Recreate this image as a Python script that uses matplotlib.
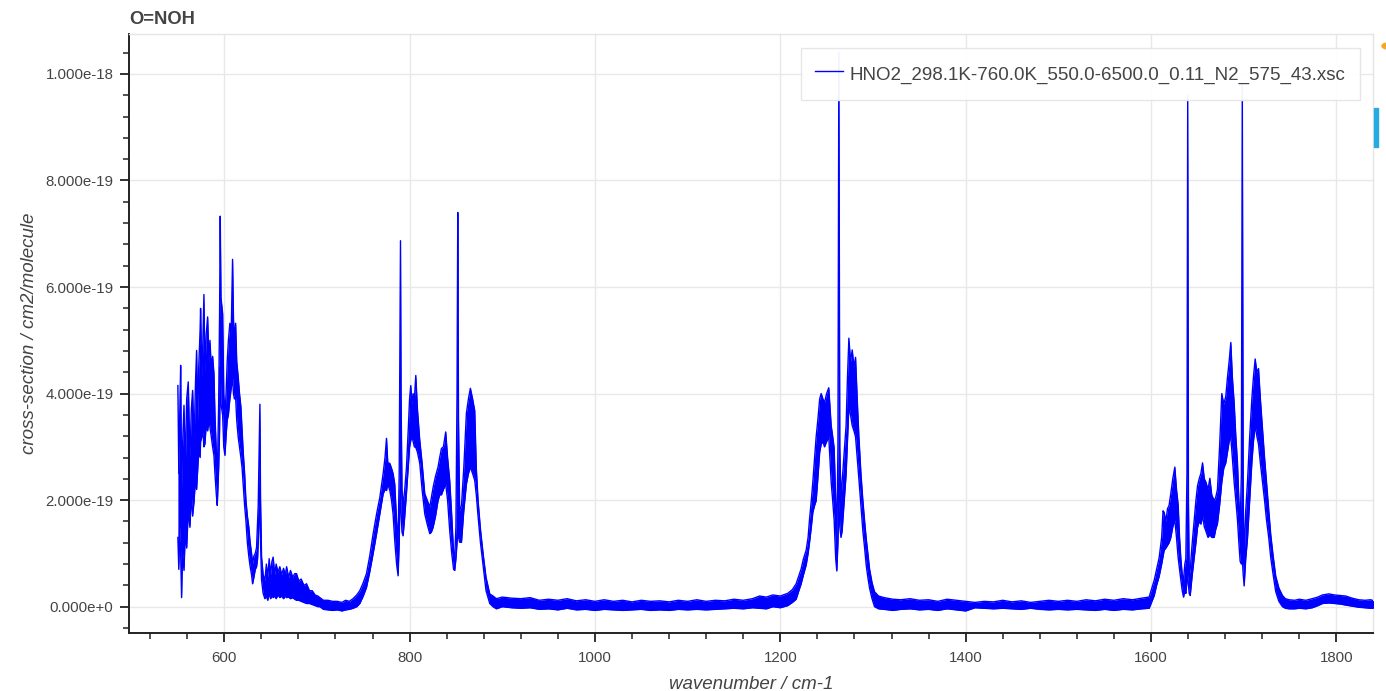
import numpy as np
import matplotlib.pyplot as plt
from matplotlib.ticker import MultipleLocator, FuncFormatter
from matplotlib.patches import Rectangle, Circle

plt.rcParams['font.family'] = ['Liberation Sans', 'DejaVu Sans']

# =========================
# spectrum (upper / lower edge of the noisy trace, units of 1e-19 cm2/molecule)
# =========================
title = "O=NOH"
file_label = "HNO2_298.1K-760.0K_550.0-6500.0_0.11_N2_575_43.xsc"

wavenumber = [
    550.0, 551.0, 552.0, 553.0, 554.0, 555.0, 556.6, 558.0, 559.5, 561.2,
    563.0, 564.5, 565.9, 567.5, 569.0, 570.2, 571.5, 572.5, 574.0, 574.5,
    576.0, 577.0, 578.1, 579.2, 580.5, 582.1, 583.5, 584.6, 586.0, 587.5,
    588.9, 590.0, 591.5, 592.5, 594.0, 595.0, 595.7, 596.5, 598.3, 599.5,
    600.8, 602.0, 603.2, 604.5, 606.1, 607.5, 609.0, 610.0, 611.0, 612.3,
    613.5, 615.1, 616.5, 618.0, 619.3, 620.5, 622.0, 623.4, 625.0, 626.5,
    628.0, 629.5, 630.6, 632.0, 633.5, 634.9, 636.0, 636.7, 637.8, 638.5,
    639.2, 640.3, 642.0, 643.9, 645.5, 647.0, 648.5, 650.0, 651.5, 652.8,
    654.5, 656.0, 658.0, 660.0, 662.0, 664.0, 666.0, 667.3, 669.5, 671.5,
    674.0, 676.0, 678.0, 680.5, 683.0, 686.0, 688.8, 692.0, 695.0, 698.0,
    701.0, 703.2, 707.0, 712.0, 717.0, 722.0, 727.0, 731.0, 735.0, 739.0,
    743.0, 746.3, 750.0, 753.5, 757.0, 760.7, 764.5, 767.9, 771.5, 773.5,
    775.1, 776.5, 778.7, 780.5, 782.2, 784.0, 786.0, 787.6, 788.8, 789.6,
    790.2, 790.8, 791.8, 793.0, 794.8, 796.6, 798.5, 800.0, 801.3, 802.5,
    803.8, 805.2, 806.7, 808.5, 811.0, 813.5, 816.4, 819.0, 821.8, 823.5,
    825.4, 828.0, 830.7, 832.5, 834.4, 836.5, 839.0, 841.0, 843.3, 845.5,
    847.5, 848.7, 850.0, 851.2, 852.0, 852.8, 854.0, 856.0, 858.5, 861.3,
    863.5, 865.6, 868.0, 870.3, 872.0, 873.9, 876.5, 879.3, 882.5, 886.5,
    890.0, 893.7, 900.0, 910.0, 920.0, 930.0, 940.0, 950.0, 960.0, 970.0,
    980.0, 990.0, 1000.0, 1010.0, 1020.0, 1030.0, 1040.0, 1050.0, 1060.0, 1070.0,
    1080.0, 1090.0, 1100.0, 1110.0, 1120.0, 1130.0, 1140.0, 1150.0, 1160.0, 1170.0,
    1177.6, 1185.0, 1192.0, 1200.0, 1208.0, 1213.0, 1217.1, 1220.0, 1222.5, 1225.0,
    1227.9, 1230.0, 1231.5, 1233.5, 1235.1, 1237.0, 1238.7, 1240.5, 1242.5, 1244.1,
    1246.0, 1247.7, 1250.0, 1252.3, 1254.9, 1256.5, 1258.1, 1259.8, 1261.0, 1262.2,
    1263.2, 1264.2, 1265.5, 1266.7, 1269.0, 1271.0, 1272.5, 1274.0, 1275.8, 1277.6,
    1279.5, 1281.2, 1283.0, 1284.8, 1287.0, 1289.1, 1291.0, 1292.7, 1294.5, 1296.3,
    1299.0, 1301.7, 1306.0, 1312.0, 1321.4, 1330.0, 1340.0, 1350.0, 1360.0, 1370.0,
    1380.0, 1390.0, 1400.0, 1410.0, 1420.0, 1430.0, 1440.0, 1450.0, 1460.0, 1470.0,
    1480.0, 1490.0, 1500.0, 1510.0, 1520.0, 1530.0, 1540.0, 1550.0, 1560.0, 1570.0,
    1580.0, 1590.0, 1598.0, 1603.5, 1606.0, 1608.8, 1611.5, 1613.0, 1614.2, 1616.0,
    1617.8, 1619.5, 1621.4, 1623.5, 1625.7, 1627.5, 1629.3, 1630.8, 1632.2, 1633.7,
    1635.1, 1636.5, 1637.6, 1638.8, 1639.6, 1640.4, 1641.2, 1642.3, 1644.5, 1646.6,
    1648.5, 1650.2, 1652.0, 1653.8, 1655.6, 1657.5, 1659.2, 1661.5, 1663.5, 1665.5,
    1668.1, 1669.8, 1671.7, 1674.0, 1676.4, 1678.5, 1680.7, 1682.5, 1684.3, 1686.1,
    1687.8, 1689.7, 1691.5, 1693.3, 1694.8, 1696.2, 1697.5, 1698.5, 1699.5, 1700.5,
    1702.2, 1704.1, 1706.5, 1708.8, 1710.5, 1712.4, 1714.2, 1716.0, 1718.0, 1720.3,
    1722.5, 1724.6, 1727.0, 1729.2, 1731.8, 1734.6, 1738.0, 1741.8, 1745.0, 1749.0,
    1755.0, 1760.0, 1767.0, 1774.0, 1780.0, 1785.0, 1792.0, 1798.0, 1804.0, 1810.0,
    1817.0, 1824.0, 1831.0, 1837.0, 1842.0,
]

xsec_upper = [
    4.15, 2.50, 3.60, 4.53, 2.20, 3.00, 3.78, 2.60, 3.90, 4.22,
    2.80, 3.70, 4.06, 3.10, 4.20, 4.81, 3.50, 4.50, 5.20, 5.60,
    4.30, 5.00, 5.86, 4.40, 5.10, 5.44, 4.60, 5.00, 4.50, 4.70,
    4.38, 3.60, 2.90, 2.40, 3.80, 5.50, 7.33, 5.80, 5.50, 4.00,
    3.60, 4.00, 4.60, 5.00, 5.32, 5.10, 6.52, 5.40, 5.00, 5.32,
    4.60, 4.31, 4.00, 3.75, 3.30, 2.90, 2.50, 2.00, 1.70, 1.50,
    1.20, 1.00, 0.81, 0.95, 1.00, 1.11, 1.60, 1.90, 3.00, 3.80,
    2.00, 0.93, 0.60, 0.49, 0.80, 0.55, 0.90, 0.60, 0.85, 0.93,
    0.60, 0.80, 0.65, 0.75, 0.60, 0.72, 0.60, 0.75, 0.55, 0.68,
    0.55, 0.62, 0.62, 0.48, 0.52, 0.40, 0.43, 0.30, 0.30, 0.22,
    0.20, 0.17, 0.12, 0.12, 0.10, 0.10, 0.08, 0.12, 0.10, 0.15,
    0.22, 0.30, 0.45, 0.62, 0.95, 1.37, 1.75, 2.05, 2.50, 2.80,
    3.16, 2.70, 2.69, 2.60, 2.50, 2.30, 1.60, 1.20, 2.50, 5.00,
    6.87, 4.00, 2.20, 1.90, 2.20, 2.60, 3.30, 3.90, 4.15, 3.80,
    4.00, 3.90, 4.34, 3.70, 3.12, 2.70, 2.12, 2.00, 1.87, 2.05,
    2.24, 2.45, 2.62, 2.80, 2.97, 3.00, 3.28, 2.80, 2.37, 1.70,
    1.00, 0.90, 1.50, 4.00, 7.40, 3.50, 1.80, 1.90, 2.60, 3.63,
    3.90, 4.10, 3.90, 3.68, 2.60, 1.99, 1.45, 1.00, 0.55, 0.24,
    0.20, 0.15, 0.18, 0.16, 0.15, 0.17, 0.12, 0.14, 0.12, 0.15,
    0.11, 0.13, 0.10, 0.13, 0.10, 0.12, 0.09, 0.12, 0.10, 0.11,
    0.09, 0.12, 0.10, 0.13, 0.10, 0.12, 0.11, 0.14, 0.12, 0.15,
    0.20, 0.18, 0.22, 0.20, 0.25, 0.32, 0.43, 0.58, 0.71, 0.90,
    1.06, 1.30, 1.63, 2.00, 2.34, 2.80, 3.19, 3.50, 3.90, 4.00,
    3.90, 3.83, 4.00, 4.11, 3.40, 3.20, 2.98, 2.00, 1.20, 3.00,
    10.40, 3.00, 2.00, 2.34, 2.90, 3.40, 4.30, 5.04, 4.60, 4.82,
    4.50, 4.68, 3.90, 3.19, 2.50, 1.99, 1.60, 1.28, 1.00, 0.71,
    0.45, 0.28, 0.20, 0.17, 0.14, 0.13, 0.15, 0.12, 0.13, 0.10,
    0.14, 0.12, 0.10, 0.08, 0.10, 0.09, 0.12, 0.09, 0.11, 0.08,
    0.10, 0.12, 0.10, 0.12, 0.10, 0.13, 0.11, 0.14, 0.12, 0.15,
    0.13, 0.16, 0.18, 0.50, 0.70, 0.92, 1.30, 1.80, 1.77, 1.60,
    1.84, 1.90, 2.13, 2.40, 2.62, 2.20, 1.91, 1.30, 0.90, 0.60,
    0.50, 0.80, 0.90, 2.50, 9.60, 2.00, 0.60, 0.70, 1.20, 1.63,
    2.00, 2.27, 2.40, 2.50, 2.70, 2.40, 2.34, 2.20, 2.41, 2.10,
    1.99, 2.05, 2.20, 3.00, 4.00, 3.80, 3.95, 4.30, 4.60, 4.96,
    4.30, 3.83, 3.20, 2.70, 2.00, 1.50, 2.50, 9.80, 2.00, 0.90,
    1.80, 2.34, 3.20, 3.90, 4.30, 4.65, 4.40, 4.47, 3.90, 3.33,
    2.80, 2.34, 1.80, 1.35, 0.95, 0.57, 0.35, 0.21, 0.15, 0.13,
    0.12, 0.14, 0.12, 0.15, 0.18, 0.22, 0.24, 0.22, 0.21, 0.20,
    0.16, 0.13, 0.12, 0.13, 0.10,
]

xsec_lower = [
    1.30, 0.70, 1.50, 1.00, 0.17, 1.00, 0.68, 1.40, 1.10, 1.80,
    1.49, 2.10, 1.70, 1.99, 2.40, 2.20, 2.60, 2.93, 2.80, 3.10,
    3.20, 3.30, 3.00, 3.06, 3.40, 3.30, 3.50, 3.37, 3.20, 3.00,
    2.84, 2.50, 2.10, 1.90, 2.60, 3.30, 4.50, 3.80, 3.60, 3.00,
    2.84, 3.20, 3.50, 3.60, 3.90, 4.10, 4.30, 4.00, 3.90, 3.93,
    3.50, 3.18, 3.00, 2.80, 2.60, 2.30, 1.90, 1.62, 1.20, 0.95,
    0.75, 0.60, 0.43, 0.55, 0.70, 0.75, 0.90, 1.20, 1.80, 1.90,
    1.20, 0.50, 0.25, 0.15, 0.20, 0.12, 0.25, 0.15, 0.20, 0.17,
    0.20, 0.15, 0.22, 0.17, 0.20, 0.15, 0.20, 0.17, 0.18, 0.15,
    0.17, 0.14, 0.12, 0.12, 0.10, 0.08, 0.06, 0.06, 0.04, 0.02,
    0.00, 0.00, -0.05, -0.06, -0.07, -0.06, -0.08, -0.06, -0.05, -0.03,
    0.00, 0.06, 0.20, 0.36, 0.65, 1.00, 1.38, 1.74, 2.12, 2.20,
    2.18, 2.30, 2.18, 2.00, 1.74, 1.24, 0.80, 0.58, 1.20, 2.00,
    2.20, 1.80, 1.40, 1.33, 1.70, 2.12, 2.60, 3.00, 3.12, 3.20,
    3.10, 3.00, 2.99, 2.90, 2.69, 2.20, 1.74, 1.55, 1.37, 1.40,
    1.49, 1.70, 1.99, 2.10, 2.10, 2.20, 2.30, 2.00, 1.43, 1.00,
    0.70, 0.68, 0.90, 1.20, 1.40, 1.30, 1.21, 1.21, 1.80, 2.30,
    2.50, 2.62, 2.50, 2.37, 2.10, 1.70, 1.20, 0.78, 0.30, 0.06,
    0.00, -0.04, 0.00, -0.02, -0.03, -0.02, -0.05, -0.04, -0.06, -0.03,
    -0.06, -0.05, -0.07, -0.05, -0.06, -0.07, -0.06, -0.05, -0.07, -0.06,
    -0.07, -0.05, -0.06, -0.05, -0.06, -0.05, -0.04, -0.03, -0.04, -0.02,
    -0.03, -0.04, 0.00, -0.02, 0.02, 0.08, 0.14, 0.30, 0.43, 0.60,
    0.78, 1.00, 1.20, 1.50, 1.77, 1.90, 1.99, 2.40, 2.90, 3.05,
    3.10, 3.00, 3.10, 3.19, 2.34, 2.00, 1.63, 0.90, 0.67, 1.20,
    2.00, 1.50, 1.30, 1.42, 2.00, 2.48, 3.10, 3.76, 3.60, 3.40,
    3.30, 3.19, 2.80, 2.40, 1.90, 1.42, 1.10, 0.78, 0.55, 0.35,
    0.15, 0.00, -0.04, -0.05, -0.07, -0.05, -0.04, -0.06, -0.05, -0.07,
    -0.04, -0.06, -0.08, -0.02, -0.03, -0.04, -0.03, -0.04, -0.05, -0.03,
    -0.05, -0.06, -0.05, -0.06, -0.05, -0.06, -0.07, -0.05, -0.07, -0.05,
    -0.06, -0.04, -0.03, 0.21, 0.40, 0.57, 0.80, 0.95, 1.06, 1.10,
    1.15, 1.20, 1.30, 1.50, 1.63, 1.30, 0.92, 0.70, 0.50, 0.30,
    0.18, 0.30, 0.25, 0.50, 0.60, 0.40, 0.25, 0.21, 0.60, 0.92,
    1.20, 1.49, 1.60, 1.55, 1.70, 1.50, 1.42, 1.30, 1.35, 1.30,
    1.30, 1.45, 1.56, 1.90, 2.34, 2.60, 2.70, 2.90, 3.10, 3.19,
    2.80, 2.34, 2.00, 1.63, 1.20, 0.85, 0.80, 0.90, 0.60, 0.39,
    0.90, 1.28, 2.00, 2.70, 3.10, 3.40, 3.20, 3.05, 2.70, 2.34,
    2.00, 1.63, 1.30, 0.92, 0.60, 0.28, 0.10, 0.00, -0.03, -0.04,
    -0.04, -0.03, -0.04, -0.02, 0.02, 0.06, 0.07, 0.06, 0.05, 0.03,
    0.01, -0.01, -0.02, -0.03, -0.03,
]

x_ticks = [600, 800, 1000, 1200, 1400, 1600, 1800]
y_ticks = [0.0, 2e-19, 4e-19, 6e-19, 8e-19, 1e-18]

wn = np.array(wavenumber)
upper = np.array(xsec_upper) * 1e-19
lower = np.array(xsec_lower) * 1e-19

# =========================
# figure
# =========================
fig = plt.figure(figsize=(13.86, 6.91), dpi=100)
ax = fig.add_axes([0.0933, 0.0844, 0.8971, 0.8664])

blue = '#0000ff'
ax.fill_between(wn, lower, upper, color=blue, linewidth=0, zorder=3)
ax.plot(wn, upper, color=blue, linewidth=1.0, label=file_label, zorder=3)
ax.plot(wn, lower, color=blue, linewidth=1.0, zorder=3)

ax.set_xlim(497.6, 1839.2)
ax.set_ylim(-0.0488e-18, 1.075e-18)

# axes styling
text_grey = '#444444'
for side in ['top', 'right']:
    ax.spines[side].set_color('#e5e5e5')
    ax.spines[side].set_linewidth(1.0)
for side in ['left', 'bottom']:
    ax.spines[side].set_color('#222222')
    ax.spines[side].set_linewidth(1.4)

ax.set_xticks(x_ticks)
ax.set_yticks(y_ticks)
ax.xaxis.set_minor_locator(MultipleLocator(40))
ax.yaxis.set_minor_locator(MultipleLocator(4e-20))


def sci_fmt(v, pos):
    m, e = f"{v:.3e}".split('e')
    return f"{m}e{int(e):+d}" if int(e) != 0 else f"{m}e+0"


ax.yaxis.set_major_formatter(FuncFormatter(sci_fmt))
ax.tick_params(which='major', direction='out', length=6.5, width=1.3,
               color='#222222', labelcolor=text_grey, labelsize=10.8, pad=5)
ax.tick_params(axis='x', which='major', pad=6.5)
ax.tick_params(which='minor', direction='out', length=4, width=1.1,
               color='#222222')

ax.grid(True, which='major', color='#e8e8e8', linewidth=1.0, zorder=0)
ax.set_axisbelow(True)

ax.set_xlabel("wavenumber / cm-1", fontsize=13.5, fontstyle='italic',
              color=text_grey, labelpad=8)
ax.set_ylabel("cross-section / cm2/molecule", fontsize=13.5, fontstyle='italic',
              color=text_grey, labelpad=5)
ax.set_title(title, loc='left', fontsize=13.2, fontweight='bold',
             color=text_grey, pad=7)

leg = ax.legend(loc='upper right', bbox_to_anchor=(1359.6 / 1386, 1 - 48.3 / 691),
                bbox_transform=fig.transFigure, fontsize=13.5,
                frameon=True, fancybox=False, framealpha=0.95,
                edgecolor='#e5e5e5', handlelength=1.47, handletextpad=0.37,
                handleheight=1.55, borderpad=0.75, borderaxespad=0)
leg.get_frame().set_linewidth(1.0)
for t in leg.get_texts():
    t.set_color(text_grey)
leg.set_zorder(5)

# toolbar marks at the right edge
fig.patches.append(Rectangle((1374 / 1386, 1 - 147 / 691), 4 / 1386, 39 / 691,
                             transform=fig.transFigure, color='#26aae1'))
fig.patches.append(Circle((1388 / 1386, 1 - 46 / 691), 6 / 1386,
                          transform=fig.transFigure, color='#f5a623'))

fig.savefig('out.png', dpi=100)
